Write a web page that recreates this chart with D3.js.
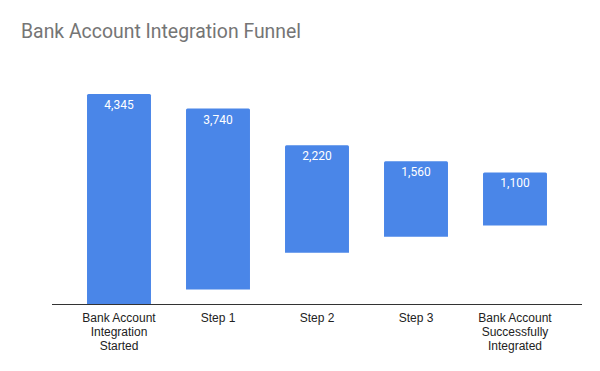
<!DOCTYPE html>
<html>
<head>
<meta charset="utf-8">
<script src="https://cdn.jsdelivr.net/npm/d3@7"></script>
<style>
  body { margin: 0; background: #fff; }
</style>
</head>
<body>
<script>
// funnel data
var stages = [
  ["Bank Account", "Integration", "Started"],
  ["Step 1"],
  ["Step 2"],
  ["Step 3"],
  ["Bank Account", "Successfully", "Integrated"]
];
var stageKeys = ["started", "step1", "step2", "step3", "integrated"];
var counts = [4345, 3740, 2220, 1560, 1100];

var width = 600, height = 371;
var baseline = 304;

var svg = d3.select("body").append("svg")
    .attr("width", width)
    .attr("height", height);

svg.append("text")
    .attr("x", 21)
    .attr("y", 38)
    .style("font-family", "Roboto, sans-serif")
    .style("font-size", "19.4px")
    .style("fill", "#757575")
    .text("Bank Account Integration Funnel");

var x = d3.scaleBand()
    .domain(stageKeys)
    .range([69.5, 564.5])
    .paddingInner(0.354)
    .paddingOuter(0.177);

var maxCount = d3.max(counts);
var y = d3.scaleLinear()
    .domain([0, maxCount])
    .range([baseline, 94]);

// each bar floats centred on the first bar's middle
function barTop(v) { return y((maxCount + v) / 2); }
function barBottom(v) { return y((maxCount - v) / 2); }

var bars = svg.append("g").selectAll("path")
    .data(counts)
    .enter().append("path")
    .attr("fill", "#4a86e8")
    .attr("d", (d, i) => {
        var x0 = x(stageKeys[i]), x1 = x0 + x.bandwidth();
        var t = barTop(d), b = barBottom(d), r = 1.5;
        return "M" + x0 + "," + b +
            "V" + (t + r) + "Q" + x0 + "," + t + " " + (x0 + r) + "," + t +
            "H" + (x1 - r) + "Q" + x1 + "," + t + " " + x1 + "," + (t + r) +
            "V" + b + "Z";
    });

svg.append("g").selectAll("text")
    .data(counts)
    .enter().append("text")
    .attr("x", (d, i) => x(stageKeys[i]) + x.bandwidth() / 2)
    .attr("y", (d) => barTop(d) + 15)
    .attr("text-anchor", "middle")
    .style("font-family", "Roboto, sans-serif")
    .style("font-size", "12px")
    .style("fill", "#ffffff")
    .text((d) => d3.format(",")(d));

// x axis
svg.append("line")
    .attr("x1", 52).attr("x2", 582)
    .attr("y1", baseline + 0.5).attr("y2", baseline + 0.5)
    .attr("stroke", "#333333")
    .attr("stroke-width", 1);

var labels = svg.append("g").selectAll("text")
    .data(stages)
    .enter().append("text")
    .attr("text-anchor", "middle")
    .attr("transform", (d, i) => "translate(" + (x(stageKeys[i]) + x.bandwidth() / 2) + ",322)")
    .style("font-family", "'Liberation Sans', Arial, sans-serif")
    .style("font-size", "12px")
    .style("fill", "#222222");

labels.selectAll("tspan")
    .data((d) => d)
    .enter().append("tspan")
    .attr("x", 0)
    .attr("dy", (d, i) => i === 0 ? 0 : 14)
    .text((d) => d);
</script>
</body>
</html>
